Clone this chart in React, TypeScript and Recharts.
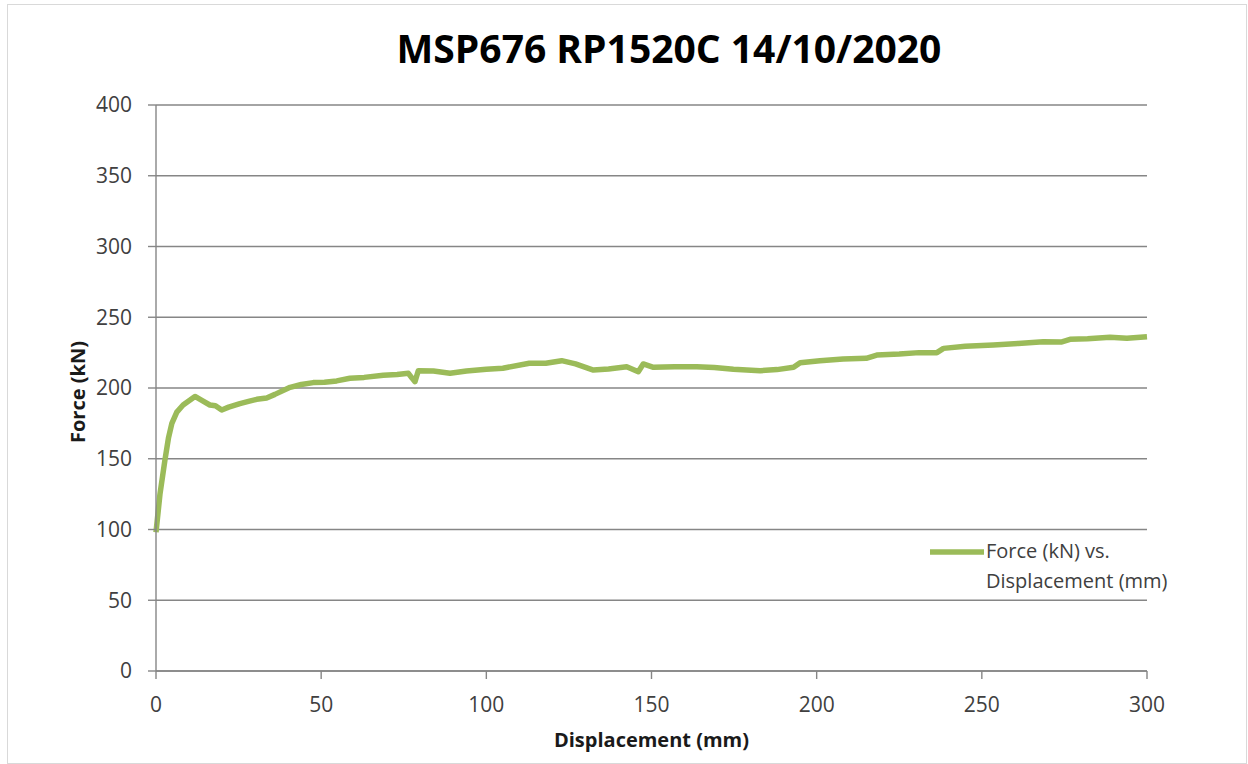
import React from 'react';
import { LineChart, Line, XAxis, YAxis, CartesianGrid, Legend } from 'recharts';

const displacement = [
  0, 1.2, 2.7, 3.8, 4.8, 6.3, 8.2, 10, 11.8, 14, 16.3, 18, 19.9, 22, 25.4, 28, 30.5, 33.5, 36, 40.6,
  44, 47.6, 51, 54.7, 58.7, 63, 68.8, 73, 76.4, 77.5, 78.4, 79.4, 84, 89, 94, 100, 105, 113, 118, 122.8,
  127, 132.4, 137, 142.5, 146, 147.5, 150.6, 157, 163.7, 169, 174.8, 182.9, 188, 193, 195, 201, 208, 215, 218.2, 225,
  231, 236.4, 238.4, 245, 253.5, 261, 268.6, 274, 276.7, 282, 288.8, 293.9, 300,
];
const force = [
  98, 125, 149, 165, 175, 183, 188, 191, 194, 191, 188, 187.5, 184.5, 186.5, 189, 190.5, 192, 193, 195.5, 200.5,
  202.5, 203.8, 204, 205, 206.9, 207.5, 209, 209.5, 210.4, 207, 204.5, 212.2, 212, 210.4, 212, 213.2, 214, 217.5, 217.5, 219.3,
  217, 212.7, 213.5, 215, 211.5, 217, 214.6, 215, 215, 214.5, 213.2, 212.2, 213, 214.6, 217.9, 219.3, 220.5, 221, 223.3, 224,
  225, 225, 228, 229.5, 230.4, 231.5, 232.7, 232.5, 234.4, 234.8, 235.8, 235.1, 236.3,
];
const xTicks = [0, 50, 100, 150, 200, 250, 300];
const yTicks = [0, 50, 100, 150, 200, 250, 300, 350, 400];

const title = 'MSP676 RP1520C 14/10/2020';
const xLabel = 'Displacement (mm)';
const yLabel = 'Force (kN)';
const seriesName = 'Force (kN) vs. Displacement (mm)';

const data = displacement.map((d, i) => ({ d, f: force[i] }));

const FONT = '"Open Sans", sans-serif';
const GREEN = '#9BBB59';
const GRID = '#868686';
const TEXT = '#404040';

const YLabelContent = (props: any) => {
  const vb = props.viewBox || { x: 0, y: 100, width: 148, height: 566 };
  const cx = vb.x + 69;
  const cy = vb.y + vb.height / 2 + 4;
  return (
    <text
      x={cx}
      y={cy}
      transform={`rotate(-90, ${cx}, ${cy})`}
      textAnchor="middle"
      dominantBaseline="central"
      fontFamily={FONT}
      fontWeight={700}
      fontSize={20}
      fill="#1a1a1a"
    >
      {yLabel}
    </text>
  );
};

const LegendContent = () => (
  <div style={{ display: 'flex', alignItems: 'flex-start', fontFamily: FONT, fontSize: 20, color: TEXT }}>
    <svg width={54} height={8} style={{ marginTop: 12, display: 'block' }}>
      <line x1={0} y1={4} x2={54} y2={4} stroke={GREEN} strokeWidth={5.5} />
    </svg>
    <div style={{ lineHeight: '30px', whiteSpace: 'nowrap', marginLeft: 2 }}>
      <div>Force (kN) vs.</div>
      <div>Displacement (mm)</div>
    </div>
  </div>
);

export default function App() {
  return (
    <div style={{ position: 'absolute', left: 7, top: 4, width: 1238, height: 758, border: '1px solid #D9D9D9', background: '#fff' }}>
      <LineChart
        width={1238}
        height={758}
        data={data}
        margin={{ top: 100, right: 99, left: 0, bottom: 0 }}
      >
        <CartesianGrid vertical={false} stroke={GRID} strokeWidth={1.4} />
        <XAxis
          dataKey="d"
          type="number"
          domain={[0, 300]}
          ticks={xTicks}
          height={92}
          tickSize={8}
          tickMargin={18}
          axisLine={{ stroke: GRID, strokeWidth: 1.4 }}
          tickLine={{ stroke: GRID, strokeWidth: 1.4 }}
          tick={{ fontFamily: FONT, fontSize: 21, fill: TEXT }}
          label={{ value: xLabel, position: 'insideBottom', offset: 16, style: { fontFamily: FONT, fontWeight: 700, fontSize: 20, fill: '#1a1a1a' } }}
        />
        <YAxis
          type="number"
          domain={[0, 400]}
          ticks={yTicks}
          width={148}
          tickSize={8}
          tickMargin={16}
          axisLine={{ stroke: GRID, strokeWidth: 1.4 }}
          tickLine={{ stroke: GRID, strokeWidth: 1.4 }}
          tick={{ fontFamily: FONT, fontSize: 21, fill: TEXT }}
          label={<YLabelContent />}
        />
        <Legend
          layout="vertical"
          align="center"
          verticalAlign="middle"
          content={<LegendContent />}
          wrapperStyle={{ left: 922, top: 531, width: 260 }}
        />
        <Line
          type="linear"
          dataKey="f"
          name={seriesName}
          stroke={GREEN}
          strokeWidth={5.5}
          strokeLinejoin="round"
          dot={false}
          activeDot={false}
          isAnimationActive={false}
        />
      </LineChart>
      <svg width={1238} height={80} style={{ position: 'absolute', left: 0, top: 0, pointerEvents: 'none' }}>
        <text x={661} y={58} textAnchor="middle" fontFamily={FONT} fontWeight={700} fontSize={39} fill="#000">
          {title}
        </text>
      </svg>
    </div>
  );
}
